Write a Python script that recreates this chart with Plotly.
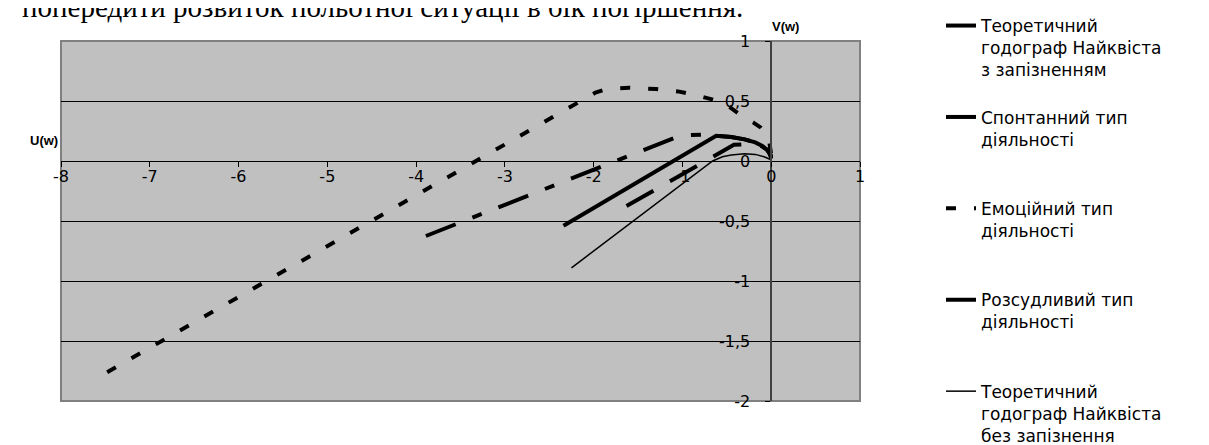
import plotly.graph_objects as go

# ---------------- data ----------------
series_names = [
    "Теоретичний<br>годограф Найквіста<br>з запізненням",
    "Спонтанний тип<br>діяльності",
    "Емоційний тип<br>діяльності",
    "Розсудливий тип<br>діяльності",
    "Теоретичний<br>годограф Найквіста<br>без запізнення",
]

theor_delay_u = [-2.34, -0.62, -0.45, -0.30, -0.18, -0.10, -0.04, -0.01, 0.0]
theor_delay_v = [-0.54, 0.21, 0.20, 0.18, 0.155, 0.125, 0.09, 0.055, 0.03]

spont_u = [-1.63, -0.42, -0.30, -0.20, -0.11, -0.05, -0.01, 0.0]
spont_v = [-0.375, 0.135, 0.14, 0.135, 0.125, 0.095, 0.055, 0.02]

emot_u = [-7.48, -1.98, -1.85, -1.60, -1.30, -1.05, -0.85, -0.65, -0.47, -0.32, -0.20, -0.12, -0.06, -0.02, 0.0]
emot_v = [-1.76, 0.57, 0.60, 0.61, 0.60, 0.58, 0.55, 0.51, 0.45, 0.37, 0.32, 0.28, 0.23, 0.15, 0.05]

ration_u = [-3.89, -1.10, -0.95, -0.78, -0.62, -0.45, -0.30, -0.18, -0.10, -0.04, -0.01, 0.0]
ration_v = [-0.625, 0.19, 0.215, 0.22, 0.21, 0.20, 0.18, 0.155, 0.125, 0.09, 0.055, 0.03]

thin_u = [-2.25, -0.66, -0.55, -0.45, -0.30, -0.18, -0.08, 0.0]
thin_v = [-0.89, 0.0, 0.035, 0.05, 0.06, 0.055, 0.035, 0.01]

x_tick_vals = [-8, -7, -6, -5, -4, -3, -2, -1, 0, 1]
x_tick_text = ["-8", "-7", "-6", "-5", "-4", "-3", "-2", "-1", "0", "1"]
y_tick_vals = [-2, -1.5, -1, -0.5, 0, 0.5, 1]
y_tick_text = ["-2", "-1,5", "-1", "-0,5", "0", "0,5", "1"]

x_range = [-8, 1]
y_range = [-2, 1]

top_text = "попередити розвиток польотної ситуації в бік погіршення."

# ---------------- layout geometry ----------------
W, H = 1209, 445
ML, MR, MT, MB = 53, 357, 33, 52
PW = W - ML - MR
PH = H - MT - MB

def px_to_paper_x(px):
    return (px - ML) / PW

def px_to_paper_y(py):
    return (H - MB - py) / PH

# position of the crossing axes, derived from the axis ranges
x_axis_pos = (0 - y_range[0]) / (y_range[1] - y_range[0])
y_axis_pos = (0 - x_range[0]) / (x_range[1] - x_range[0])

pad = "<br>\u00a0"
names_padded = [series_names[0] + pad,
                series_names[1] + pad + pad,
                series_names[2] + pad + pad,
                series_names[3] + pad + pad,
                series_names[4]]

styles = [dict(width=4),
          dict(width=4, dash="31px,19px"),
          dict(width=4, dash="10px,18px"),
          dict(width=4, dash="32px,18px,10px,18px"),
          dict(width=1.5)]
xs = [theor_delay_u, spont_u, emot_u, ration_u, thin_u]
ys = [theor_delay_v, spont_v, emot_v, ration_v, thin_v]

fig = go.Figure()
for i in range(5):
    fig.add_trace(go.Scatter(x=xs[i], y=ys[i], mode="lines",
                             name=names_padded[i], legendgroup="g%d" % i,
                             line=dict(color="black", **styles[i])))

axis_font = dict(family="DejaVu Sans, sans-serif", size=16, color="black")

fig.update_layout(
    width=W, height=H,
    margin=dict(l=ML, r=MR, t=MT, b=MB, autoexpand=False),
    paper_bgcolor="white",
    plot_bgcolor="#C0C0C0",
    showlegend=True,
    legend=dict(
        xref="container", yref="container",
        x=933 / W, y=1 + 6 / H, xanchor="left", yanchor="top",
        font=dict(family="DejaVu Sans, sans-serif", size=17, color="black"),
        valign="top", bgcolor="rgba(0,0,0,0)", borderwidth=0,
        traceorder="grouped", tracegroupgap=0, maxheight=2000,
    ),
    xaxis=dict(
        range=x_range, anchor="free", position=x_axis_pos,
        showline=True, linecolor="black", linewidth=1,
        ticks="outside", ticklen=5, tickcolor="black", tickwidth=1,
        tickvals=x_tick_vals, ticktext=x_tick_text, tickfont=axis_font,
        showgrid=False, zeroline=False, automargin=False, fixedrange=True,
    ),
    yaxis=dict(
        range=y_range, anchor="free", position=y_axis_pos,
        showline=True, linecolor="#404040", linewidth=1.5,
        ticks="outside", ticklen=5, tickcolor="black", tickwidth=1,
        tickvals=y_tick_vals, ticktext=y_tick_text, tickfont=axis_font,
        showgrid=True, gridcolor="black", gridwidth=1,
        zeroline=False, automargin=False, fixedrange=True,
    ),
    shapes=[dict(type="rect", xref="x domain", yref="y domain",
                 x0=0, x1=1, y0=0, y1=1,
                 line=dict(color="#808080", width=2), layer="below")],
    annotations=[
        dict(text=top_text, xref="paper", yref="paper",
             x=px_to_paper_x(12), y=px_to_paper_y(17), xanchor="left", yanchor="bottom",
             showarrow=False,
             font=dict(family="Liberation Serif, Times New Roman, serif", size=29, color="black")),
        dict(text="<b>U(w)</b>", xref="paper", yref="y",
             x=0, y=0.17, xanchor="right", yanchor="middle", xshift=-1,
             showarrow=False,
             font=dict(family="Liberation Sans, Arial, sans-serif", size=13, color="black")),
        dict(text="<b>V(w)</b>", xref="x", yref="paper",
             x=0.16, y=px_to_paper_y(19), xanchor="center", yanchor="middle",
             showarrow=False,
             font=dict(family="Liberation Sans, Arial, sans-serif", size=13, color="black")),
    ],
)

try:
    fig.update_xaxes(ticklabelstandoff=-4)
except Exception:
    pass
try:
    fig.update_yaxes(ticklabelstandoff=12)
except Exception:
    pass

fig.write_html("out.html")
